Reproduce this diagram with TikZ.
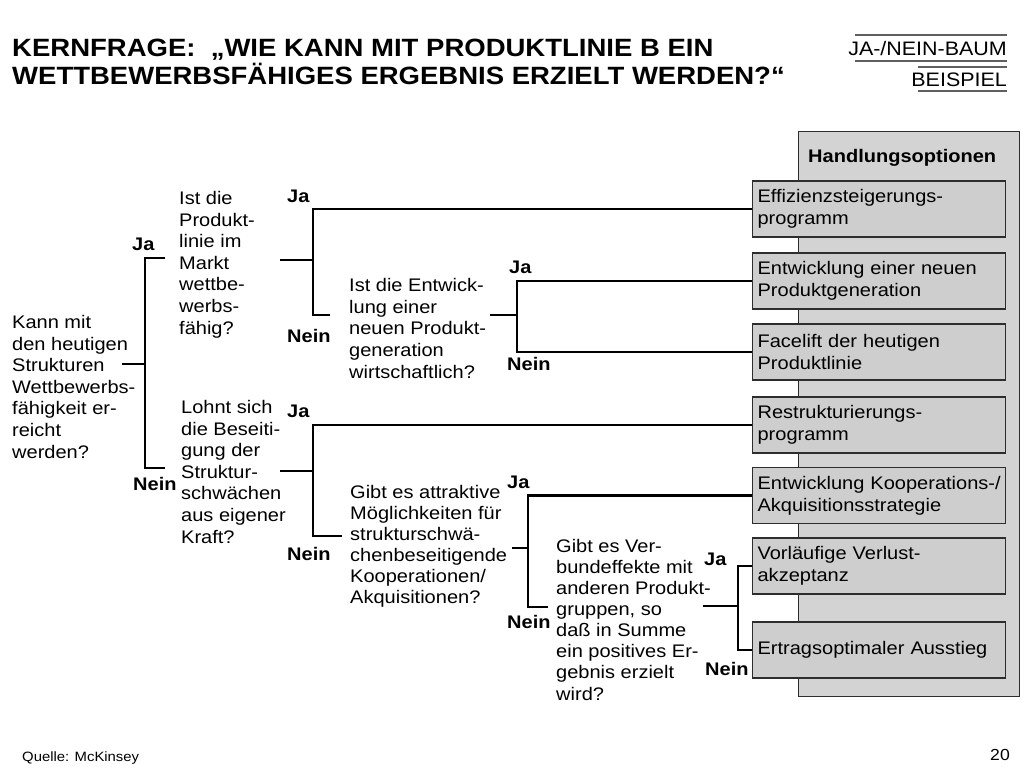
\documentclass[tikz,border=0pt]{standalone}
\usepackage{fontspec}
\setmainfont{Liberation Sans}[FakeStretch=1.1]
\usepackage{tikz}
\usetikzlibrary{positioning}
\definecolor{PanelGray}{RGB}{211,211,211}
\definecolor{BoxGray}{RGB}{206,206,206}
\definecolor{EdgeGray}{RGB}{45,45,45}
\definecolor{RuleGray}{RGB}{95,95,95}

\begin{document}
\begin{tikzpicture}[
  x=1pt, y=-1pt,
  font=\fontsize{18.2}{21.6}\selectfont,
  question/.style={anchor=base west, inner sep=0pt, align=left},
  answer/.style={anchor=base west, inner sep=0pt, font=\fontsize{18.2}{21.6}\selectfont\bfseries},
  option/.style={draw=EdgeGray, fill=BoxGray, line width=1.2pt, anchor=west, minimum width=253pt, minimum height=56pt, text width=243pt, inner xsep=5pt, inner ysep=0pt, align=left},
  branch/.style={line width=2.8pt},
  rule/.style={draw=RuleGray, line width=1.8pt}
]
\useasboundingbox (0,0) rectangle (1024,768);

% Header (multi-line nodes sit on their last baseline)
\node[anchor=base west, inner sep=0pt, align=left, font=\fontsize{25}{28}\selectfont\bfseries] (title) at (12,84) {KERNFRAGE:\ \ „WIE KANN MIT PRODUKTLINIE B EIN\\WETTBEWERBSFÄHIGES ERGEBNIS ERZIELT WERDEN?“};
\node[anchor=base east, inner sep=0pt, font=\fontsize{19.5}{22}\selectfont] (kind) at (1007,56) {JA-/NEIN-BAUM};
\node[anchor=base east, inner sep=0pt, font=\fontsize{19.5}{22}\selectfont] (state) at (1007,86) {BEISPIEL};
\draw[rule] (855,35) -- (1007,35);
\draw[rule] (855,61) -- (1007,61);
\draw[rule] (918,67) -- (1007,67);
\draw[rule] (918,91) -- (1007,91);

% Options column
\node[draw=EdgeGray, fill=PanelGray, line width=1.2pt, anchor=north west, minimum width=221pt, minimum height=565pt, inner sep=0pt] (panel) at (798,131) {};
\node[anchor=base west, inner sep=0pt, font=\fontsize{18.2}{21.6}\selectfont\bfseries] (head) at (808,162) {Handlungsoptionen};
\node[option] (o1) at (752,209) {Effizienzsteigerungs-\\programm};
\node[option] (o2) at (752,281) {Entwicklung einer neuen\\Produktgeneration};
\node[option] (o3) at (752,352) {Facelift der heutigen\\Produktlinie};
\node[option] (o4) at (752,425) {Restrukturierungs-\\programm};
\node[option] (o5) at (752,495.5) {\mbox{Entwicklung Kooperations-/}\\Akquisitionsstrategie};
\node[option] (o6) at (752,566) {Vorläufige Verlust-\\akzeptanz};
\node[option] (o7) at (752,650) {Ertragsoptimaler Ausstieg};

% Questions
\node[question] (q0) at (12,458) {Kann mit\\den heutigen\\Strukturen\\Wettbewerbs-\\fähigkeit er-\\reicht\\werden?};
\node[question] (q1) at (179,334) {Ist die\\Produkt-\\linie im\\Markt\\wettbe-\\werbs-\\fähig?};
\node[question] (q2) at (349,378) {Ist die Entwick-\\lung einer\\neuen Produkt-\\generation\\wirtschaftlich?};
\node[question] (q3) at (181,543) {Lohnt sich\\die Beseiti-\\gung der\\Struktur-\\schwächen\\aus eigener\\Kraft?};
\node[question, font=\fontsize{18.2}{21}\selectfont] (q4) at (350,603) {Gibt es attraktive\\Möglichkeiten für\\strukturschwä-\\chenbeseitigende\\Kooperationen/\\Akquisitionen?};
\node[question, font=\fontsize{18.2}{21.1}\selectfont] (q5) at (556,700) {Gibt es Ver-\\bundeffekte mit\\anderen Produkt-\\gruppen, so\\daß in Summe\\ein positives Er-\\gebnis erzielt\\wird?};

% Answers
\node[answer] (a0y) at (132,250) {Ja};
\node[answer] (a0n) at (133,490) {Nein};
\node[answer] (a1y) at (287,202) {Ja};
\node[answer] (a1n) at (287,342) {Nein};
\node[answer] (a2y) at (509,273) {Ja};
\node[answer] (a2n) at (507,370) {Nein};
\node[answer] (a3y) at (287,417) {Ja};
\node[answer] (a3n) at (287,560) {Nein};
\node[answer] (a4y) at (507,488) {Ja};
\node[answer] (a4n) at (507,628) {Nein};
\node[answer] (a5y) at (704,565) {Ja};
\node[answer] (a5n) at (705,675) {Nein};

% Branch points
\coordinate (r0) at (122,364); \coordinate (j0) at (145,364);
\coordinate (y0) at (165,258); \coordinate (n0) at (165,468);
\coordinate (r1) at (280,260); \coordinate (j1) at (313,260); \coordinate (n1) at (330,315);
\coordinate (r2) at (490,315); \coordinate (j2) at (517,315);
\coordinate (r3) at (280,471); \coordinate (j3) at (313,471); \coordinate (n3) at (342,536);
\coordinate (r4) at (512,548); \coordinate (j4) at (528,548); \coordinate (n4) at (548,607);
\coordinate (r5) at (703,606); \coordinate (j5) at (738,606);

% Tree
\draw[branch] (r0) -- (j0);
\draw[branch] (y0) -| (j0) |- (n0);
\draw[branch] (r1) -- (j1);
\draw[branch] (o1.west) -| (j1) |- (n1);
\draw[branch] (r2) -- (j2);
\draw[branch] (o2.west) -| (j2) |- (o3.west);
\draw[branch] (r3) -- (j3);
\draw[branch] (o4.west) -| (j3) |- (n3);
\draw[branch] (r4) -- (j4);
\draw[branch] (o5.west) -| (j4) |- (n4);
\draw[branch] (r5) -- (j5);
\draw[branch] (o6.west) -| (j5) |- (o7.west);

% Footer
\node[anchor=base west, inner sep=0pt, font=\fontsize{13.5}{16}\selectfont] (source) at (22,761) {Quelle: McKinsey};
\node[anchor=base east, inner sep=0pt, font=\fontsize{16}{18}\selectfont] (page) at (1010,760) {20};
\end{tikzpicture}
\end{document}
